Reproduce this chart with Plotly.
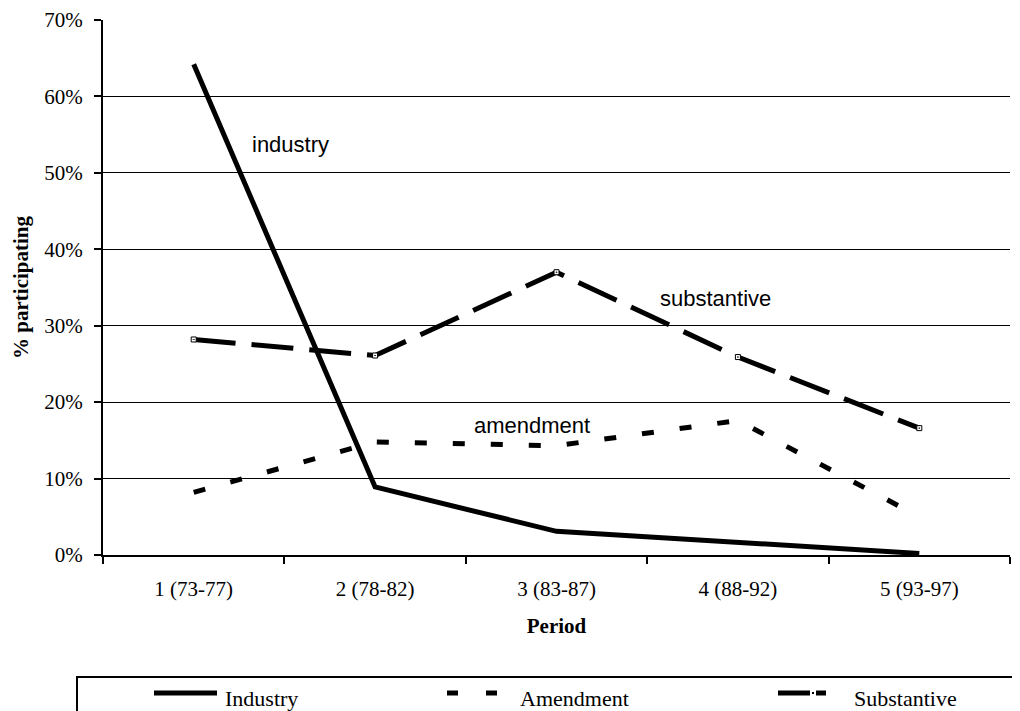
import plotly.graph_objects as go

# ---- data ----
periods = ["1 (73-77)", "2 (78-82)", "3 (83-87)", "4 (88-92)", "5 (93-97)"]
industry = [0.642, 0.089, 0.031, 0.017, 0.002]
amendment = [0.082, 0.148, 0.143, 0.176, 0.050]
substantive = [0.282, 0.261, 0.370, 0.259, 0.166]
series_names = ["Industry", "Amendment", "Substantive"]
y_ticks = [0, 0.1, 0.2, 0.3, 0.4, 0.5, 0.6, 0.7]

SERIF = "Liberation Serif, Times New Roman, serif"
SANS = "Liberation Sans, Arial, sans-serif"

OFF = 8  # browser default body margin
W, H = 1020 - OFF, 711 - OFF
# plot area in page pixels: x 103..1010, y 20..555
L, R, T, B = 103 - OFF, 10, 20 - OFF, (711 - OFF) - (555 - OFF)
PW, PH = W - L - R, H - T - B


def px(x):
    return (x - OFF - L) / PW


def py(y):
    return (H - B - (y - OFF)) / PH


fig = go.Figure()
fig.add_trace(go.Scatter(x=periods, y=industry, name=series_names[0], mode="lines",
                         line=dict(color="black", width=5)))
fig.add_trace(go.Scatter(x=periods, y=amendment, name=series_names[1], mode="lines",
                         line=dict(color="black", width=5, dash="12px,26px")))
fig.add_trace(go.Scatter(x=periods, y=substantive, name=series_names[2], mode="lines+markers",
                         line=dict(color="black", width=5, dash="42px,16px"),
                         marker=dict(symbol="square-dot", size=5, color="white",
                                     line=dict(color="black", width=1))))

# in-chart labels
fig.add_annotation(x=0.531, y=0.537, text="industry", showarrow=False,
                   font=dict(family=SANS, size=22, color="black"))
fig.add_annotation(x=2.879, y=0.3355, text="substantive", showarrow=False,
                   font=dict(family=SANS, size=22, color="black"))
fig.add_annotation(x=1.865, y=0.170, text="amendment", showarrow=False,
                   font=dict(family=SANS, size=22, color="black"))

# manual legend (box runs past the page edge like the reference)
shapes = [
    dict(type="rect", xref="paper", yref="paper", x0=px(77), x1=px(1040), y0=py(740), y1=py(677),
         line=dict(color="black", width=2), fillcolor="rgba(0,0,0,0)"),
    dict(type="line", xref="paper", yref="paper", x0=px(154), x1=px(217), y0=py(693), y1=py(693),
         line=dict(color="black", width=5)),
    dict(type="line", xref="paper", yref="paper", x0=px(447), x1=px(497), y0=py(693), y1=py(693),
         line=dict(color="black", width=5, dash="11px,28px")),
    dict(type="line", xref="paper", yref="paper", x0=px(778), x1=px(826), y0=py(693), y1=py(693),
         line=dict(color="black", width=5)),
    dict(type="rect", xref="paper", yref="paper", x0=px(810), x1=px(816), y0=py(696), y1=py(690),
         line=dict(color="white", width=0), fillcolor="white"),
    dict(type="rect", xref="paper", yref="paper", x0=px(812), x1=px(814), y0=py(694), y1=py(692),
         line=dict(color="black", width=0), fillcolor="black"),
]
legend_x = [223, 518, 852]
for name, lx in zip(series_names, legend_x):
    fig.add_annotation(xref="paper", yref="paper", x=px(lx), y=py(698), text=name,
                       showarrow=False, xanchor="left", yanchor="middle",
                       font=dict(family=SERIF, size=22, color="black"))

fig.update_layout(
    width=W, height=H,
    margin=dict(l=L, r=R, t=T, b=B, autoexpand=False),
    paper_bgcolor="white", plot_bgcolor="white",
    showlegend=False,
    shapes=shapes,
    font=dict(family=SERIF, size=21, color="black"),
)
fig.update_xaxes(
    type="category", range=[-0.5, 4.5], automargin=False,
    showline=True, linecolor="black", linewidth=2,
    ticks="outside", tickson="boundaries", ticklen=7, tickwidth=2, tickcolor="black",
    ticklabelstandoff=14,
    showgrid=False, zeroline=False,
    tickfont=dict(family=SERIF, size=21, color="black"),
    title=dict(text="<b>Period</b>", font=dict(family=SERIF, size=21, color="black"), standoff=18),
)
fig.update_yaxes(
    range=[0, 0.7], tickvals=y_ticks, tickformat=".0%", automargin=False,
    showline=True, linecolor="black", linewidth=2,
    ticks="outside", ticklen=7, tickwidth=2, tickcolor="black",
    ticklabelstandoff=7, ticklabeloverflow="allow",
    showgrid=True, gridcolor="black", gridwidth=1, zeroline=False,
    tickfont=dict(family=SERIF, size=21, color="black"),
    title=dict(text="<b>% participating</b>", font=dict(family=SERIF, size=21, color="black"), standoff=10),
)

fig.write_html("out.html")
